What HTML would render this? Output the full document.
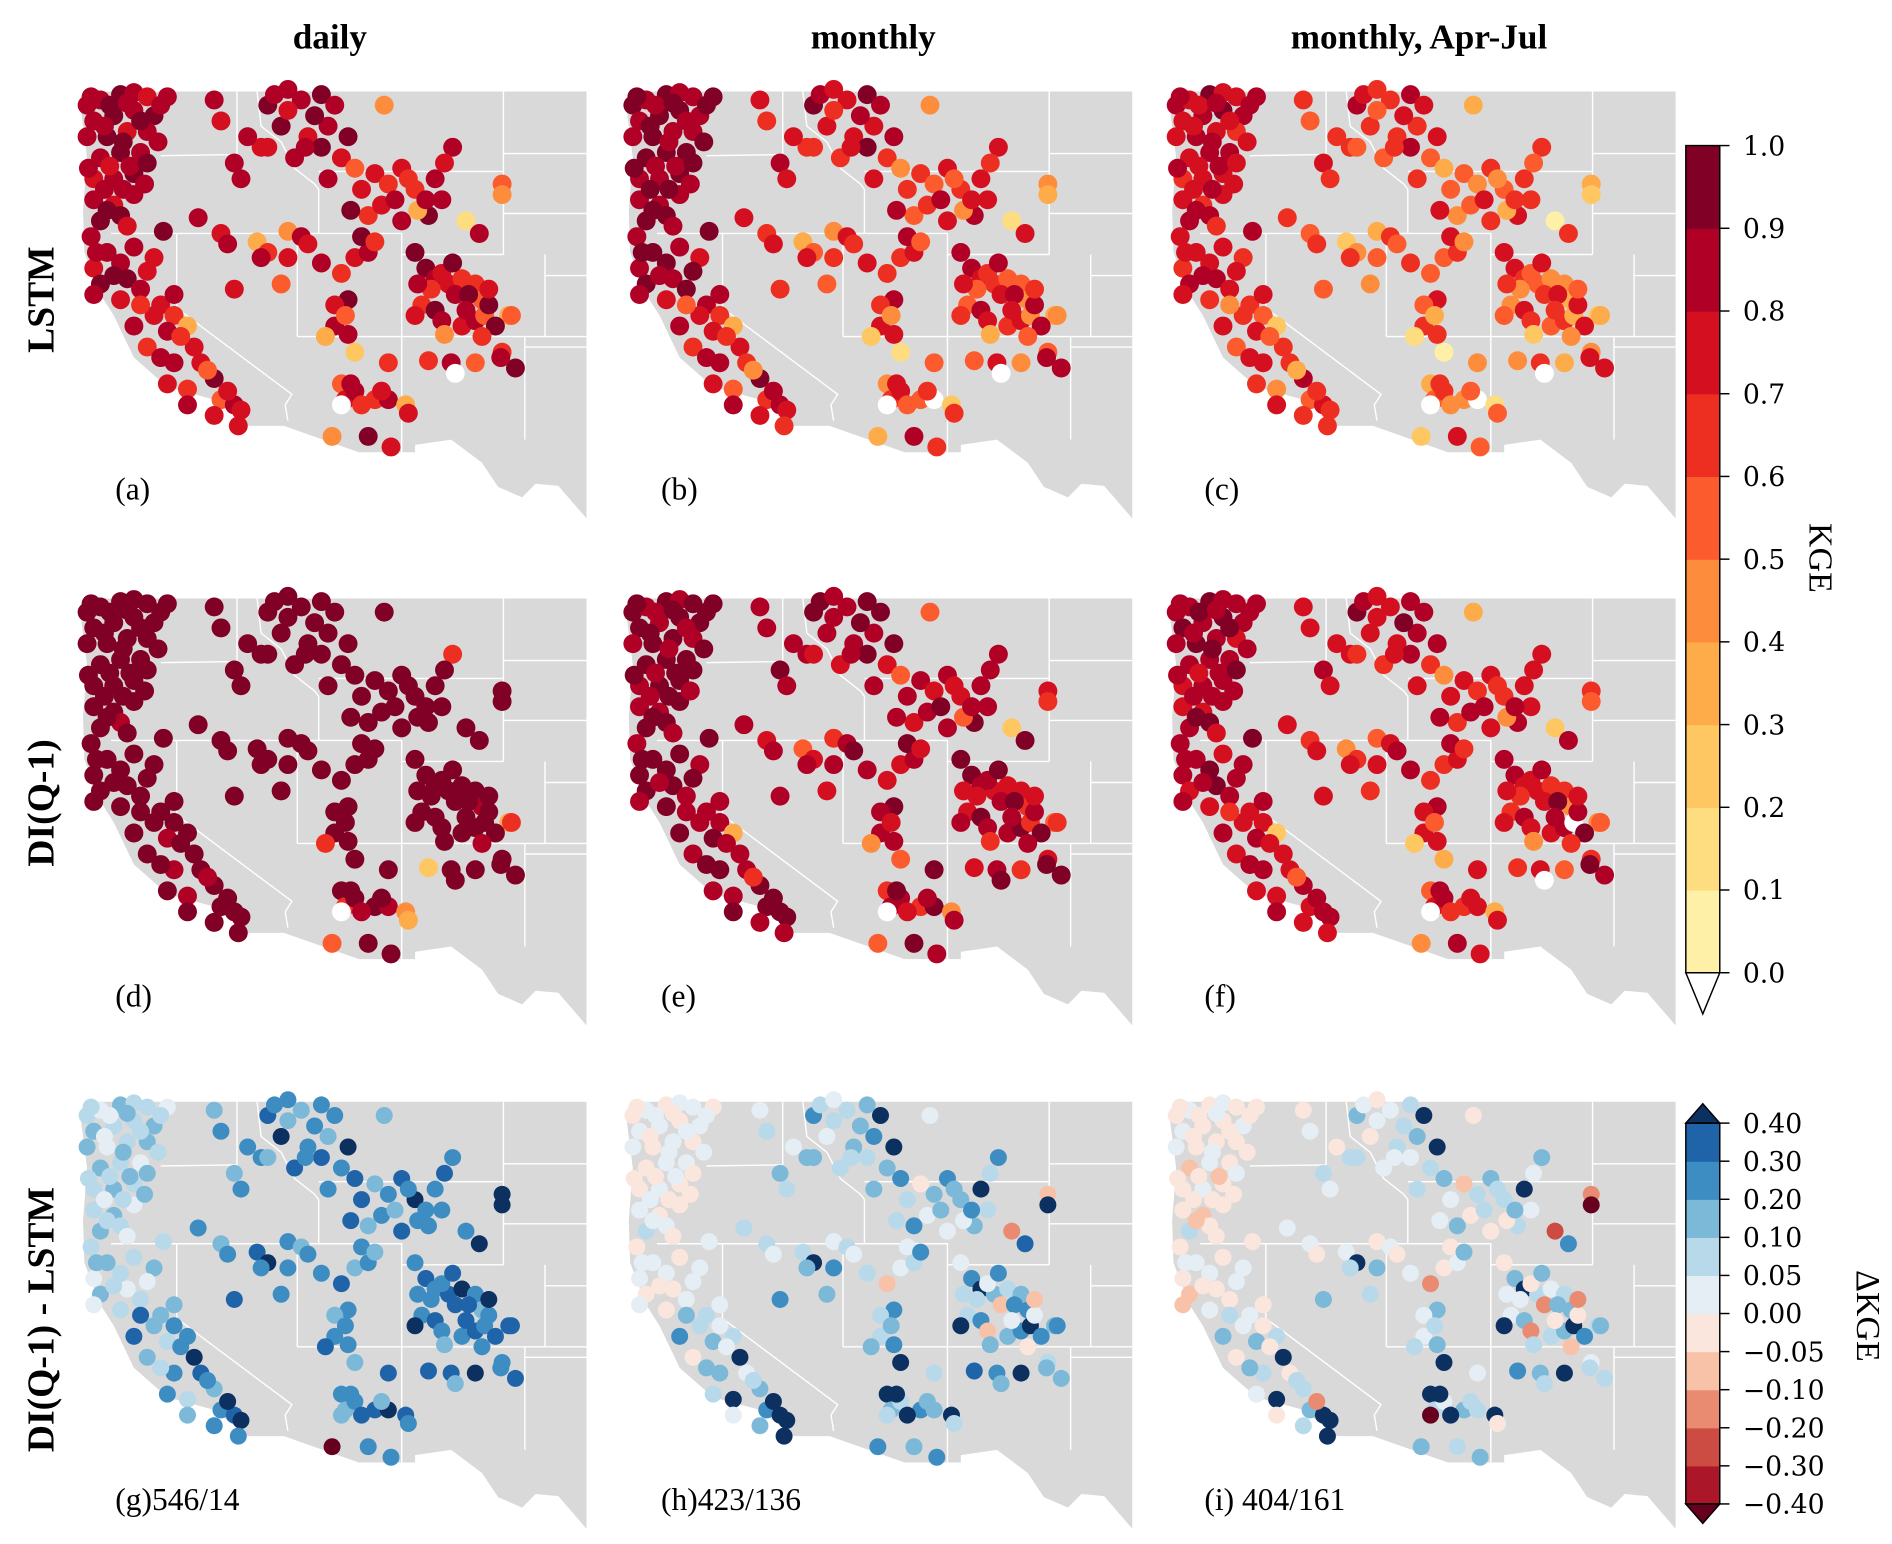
<!DOCTYPE html>
<html><head><meta charset="utf-8"><style>
html,body{margin:0;padding:0;background:#fff;}
svg{display:block;font-family:"Liberation Serif",serif;}
</style></head><body>
<svg id="fig" width="1892" height="1544" viewBox="0 0 1560 1273" xmlns="http://www.w3.org/2000/svg">
<g id="maps"></g>
<g id="labels">
<text x="272" y="40" font-size="29" font-weight="bold" text-anchor="middle">daily</text>
<text x="720" y="40" font-size="29" font-weight="bold" text-anchor="middle">monthly</text>
<text x="1170" y="40" font-size="29" font-weight="bold" text-anchor="middle">monthly, Apr-Jul</text>
<text transform="translate(44,247) rotate(-90)" font-size="31" font-weight="bold" text-anchor="middle">LSTM</text>
<text transform="translate(44,662) rotate(-90)" font-size="31" font-weight="bold" text-anchor="middle">DI(Q-1)</text>
<text transform="translate(44,1088) rotate(-90)" font-size="31" font-weight="bold" text-anchor="middle">DI(Q-1) - LSTM</text>
</g>
<g id="cbars"></g>
</svg>
<script>
// ---- data ----
var stationX = [65,75,90,100,110,125,70,85,100,115,65,80,95,110,75,90,105,70,85,100,70,85,100,75,90,68,80,70,75,90,95,105,115,100,
120,130,125,140,145,100,110,130,150,160,125,140,165,175,180,178,
160,165,175,180,195,200,205,215,225,240,250,210,200,230,220,245,240,255,245,265,280,290,300,310,325,330,320,300,275,285,287,338,332,312,
148,165,170,192,200,215,225,195,210,175,255,265,275,260,250,270,280,250,243,260,
310,318,325,335,345,340,355,360,315,325,330,310,345,355,362,365,380,385,375,337,340,355,320,
255,258,265,280,290,255,303,305,275,248,292,
375,375,348,358,382,374,265,
68,82,95,105,120,78,92,118,82,97,110,78,92,108,80,95,72,85,110,122,
115,135,120,155,170,105,140,160,
185,215,235,228,260,270,295,305,318,262,
330,350,322,348,365,370,332,360,312,338,
262,285,270,240,258,290,215,230,
66,70,90,130];
var stationY = [100,95,90,88,92,92,115,110,105,110,130,130,125,125,150,145,145,170,170,165,190,195,185,210,205,225,240,255,270,250,265,275,245,235,
290,300,315,310,330,310,330,345,345,360,365,370,380,385,390,405,
95,115,155,170,140,100,90,85,95,90,100,120,140,130,150,120,140,150,170,160,165,175,160,180,170,190,205,210,205,195,100,140,155,200,
207,222,232,230,240,220,225,245,270,275,260,245,240,285,290,225,230,310,320,318,
240,255,265,270,265,280,270,285,290,295,305,300,310,305,300,290,300,350,335,345,355,345,343,
365,380,372,380,380,385,385,393,415,415,425,
175,185,210,222,300,340,335,
92,100,98,115,100,120,135,135,158,158,155,180,180,175,200,215,240,262,258,220,
300,320,340,352,372,290,385,395,
130,105,110,140,130,180,190,170,190,200,
260,280,275,295,275,310,318,320,270,250,
365,372,385,250,300,345,245,232,
160,280,285,280];
var kgeA = "8898788989897889878987899887989878"+"7683786879765877"+"8788798889897788978576768898674873"+"87836488576789796838"+"99876865698778593968w56"+"57868w37947"+"5418582"+"89898898789888978979"+"76857687"+"8798978689"+"7968794689"+"87685677"+"8878";
var kgeB = "9898898998898899988988899898998978"+"8673786869756876"+"7687698779876767967465767787564764"+"76735477566678685727"+"88765754587667483857w45"+"4675ww26836"+"4317481"+"98989989889998989899"+"76848587"+"7687868578"+"6857683578"+"76574566"+"9878";
var kgeC = "8797787898787678867776788776878767"+"6572675768645766"+"6576687668765656856354656676453653"+"65624366455567574616"+"77654643476556372746w34"+"3564ww15725"+"3206370"+"87878787787787867878"+"65736476"+"6576757467"+"5746572467"+"65463455"+"8767";
var kgeD = "9999999999999999999999998999999999"+"9989999899989999"+"9999999999999999999999999999999699"+"99999999999999999969"+"99999998999999993999992"+"96998w43959"+"9999699"+"99999999999999999999"+"99989999"+"9999999999"+"9999999899"+"99899999"+"9999";
var kgeE = "9898999899899899989988999899999889"+"8893898989889998"+"8898899889987878978587878898785885"+"87857688787789897848"+"99877876798889685978967"+"68869w48958"+"7629695"+"98989989899898989899"+"88969898"+"8898989788"+"8978796879"+"98787989"+"9898";
var kgeF = "8898889898898788878877889888799887"+"7782787878777887"+"7787798778876768867476767787683774"+"76746577676678786727"+"88776764687778w84867w56"+"57867w37847"+"6528593"+"89898898789888978889"+"77858687"+"7797878688"+"7968794678"+"87685778"+"8878";
var dG = "6576657667756776567667576675765676"+"7868H978978689H8"+"78788988788H78979889789H8889787898"+"8789H878899788787898"+"8989H987898H898899897H9"+"8789H7988L8"+"HH8H987"+"65766576677567657656"+"7868H978"+"8788H97889"+"8989H97889"+"87988988"+"6567";
var dH = "4545545545545445545454465455454554"+"6576H847576H8HHH"+"5676786567H5776867784787H675855865"+"6656H567783568658678"+"58H76378683H78H577687H9"+"H76876H6788"+"3H2987H"+"45455455454544545455"+"6576H757"+"5676H67786"+"5865387468"+"H7H67685"+"4545";
var dI = "4545445445544435445443464454354454"+"5476H746465H7HHH"+"4565675456H4665756673676H564744754"+"5545H456672457547567"+"47H65267572H67H466576H8"+"H6576LH4677"+"2L1876H"+"44544454435444345454"+"54762646"+"4565H56675"+"4754286357"+"H6H56574"+"4354";
var kgeTicks = ["0.0","0.1","0.2","0.3","0.4","0.5","0.6","0.7","0.8","0.9","1.0"];
var dTicks = ["\u22120.40","\u22120.30","\u22120.20","\u22120.10","\u22120.05","0.00","0.05","0.10","0.20","0.30","0.40"];
var panelLabels = ["(a)","(b)","(c)","(d)","(e)","(f)","(g)546/14","(h)423/136","(i) 404/161"];

// ---- styles ----
var kgeColors = ["#fff0a8","#fedd80","#fec761","#feab49","#fd8d3c","#fc5b2e","#ed2f22","#d41020","#b00026","#800026"];
var dColors = ["#ab1628","#cc4c44","#e98b70","#f7c2a8","#fae6dc","#e4eef4","#b8d9ea","#7cb8d8","#3e8dc2","#1f63a8"];
var NS = "http://www.w3.org/2000/svg";
function mk(tag, attrs, parent){var e=document.createElementNS(NS,tag);for(var k in attrs)e.setAttribute(k,attrs[k]);parent.appendChild(e);return e;}
var sx = 1.104, sy = 0.867;
function X(v){return v*sx;} function Y(v){return v*sy;}
var mapPoly = "63,87 438,87 438,493 417,462 400,460 390,473 372,463 360,440 337,418 310,423 310,430 268,430 212,405 185,405 160,380 125,368 100,340 85,300 75,280 63,240 62,200 65,150 60,100";
var borders = ["120,148 177,147","177,87 177,147","192,87 195,120 210,135 220,160 235,175 238,180 238,222","238,163 376,163","83,222 300,222 300,242 376,242","222,222 222,320","300,242 300,430","222,320 392,320","376,87 376,242","376,146 438,146","376,203 438,203","407,242 407,320","407,262 438,262","392,320 392,418","392,320 438,320","392,330 438,330","132,222 132,293 218,375 213,385 215,400"];
function colorFor(ch,row){
  if(row<2){ if(ch==="w") return "#ffffff"; return kgeColors[parseInt(ch,10)]; }
  if(ch==="H") return "#0c3060"; if(ch==="L") return "#67001f"; return dColors[parseInt(ch,10)];
}
var maps = document.getElementById("maps");
var series = [kgeA,kgeB,kgeC,kgeD,kgeE,kgeF,dG,dH,dI];
var colDx = [0,450,898], rowDy = [0,418,833];
for(var p=0;p<9;p++){
  var r=Math.floor(p/3), c=p%3, dx=colDx[c], dy=rowDy[r];
  var g=mk("g",{},maps);
  
  
  var bg=mk("g",{transform:"translate("+dx+","+dy+") scale("+sx+","+sy+")"},g);
  var poly=mk("polygon",{points:mapPoly,fill:"#d9d9d9"},bg);
  
  
  borders.forEach(function(b){
    var l=mk("polyline",{points:b,fill:"none",stroke:"#fff","stroke-width":1.4,"vector-effect":"non-scaling-stroke"},bg);
    
    
  });
  var vals=series[p], rad=(r<2)?7.8:7;
  for(var i=0;i<stationX.length && i<vals.length;i++){
    var ci=mk("circle",{cx:(X(stationX[i])+dx).toFixed(1),cy:(Y(stationY[i])+dy).toFixed(1),r:rad,fill:colorFor(vals[i],r)},g);
    
    
  }
  var t=mk("text",{x:95+dx,y:412+dy,"font-size":26},g);
  t.textContent=panelLabels[p];
  
  
}
// colorbars
var cb=document.getElementById("cbars");
var k0=802,k1=120,bx=1390,bw=28,lx=1437;
var kstep=(k0-k1)/10;
for(var i=0;i<10;i++){
  var rr=mk("rect",{x:bx,y:k0-(i+1)*kstep,width:bw,height:kstep+0.5,fill:kgeColors[i]},cb);
  
  
}
var tri=mk("polygon",{points:bx+","+k0+" "+(bx+bw)+","+k0+" "+(bx+bw/2)+",836",fill:"#fff",stroke:"#000","stroke-width":1.2},cb);


mk("rect",{x:bx,y:k1,width:bw,height:k0-k1,fill:"none",stroke:"#000","stroke-width":1.2},cb);
kgeTicks.forEach(function(s,i){
  var y=k0-i*kstep;
  mk("line",{x1:bx+bw,x2:bx+bw+8,y1:y,y2:y,stroke:"#000","stroke-width":1.2},cb);
  var t=mk("text",{x:lx,y:y+8,"font-size":22,"font-family":"DejaVu Serif, serif"},cb);t.textContent=s;
  
  
});
var kl=mk("text",{transform:"translate(1492,460) rotate(90)","font-size":28,"text-anchor":"middle"},cb);kl.textContent="KGE";


var d0=1240,d1=926,dstep=(d0-d1)/10;
for(var i=0;i<10;i++){
  var rr=mk("rect",{x:bx,y:d0-(i+1)*dstep,width:bw,height:dstep+0.5,fill:dColors[i]},cb);
  
  
}
var tt=mk("polygon",{points:bx+","+d1+" "+(bx+bw)+","+d1+" "+(bx+bw/2)+",910",fill:"#0c3060",stroke:"#000","stroke-width":1.2},cb);


var tb=mk("polygon",{points:bx+","+d0+" "+(bx+bw)+","+d0+" "+(bx+bw/2)+",1256",fill:"#67001f",stroke:"#000","stroke-width":1.2},cb);


mk("rect",{x:bx,y:d1,width:bw,height:d0-d1,fill:"none",stroke:"#000","stroke-width":1.2},cb);
dTicks.forEach(function(s,i){
  var y=d0-i*dstep;
  mk("line",{x1:bx+bw,x2:bx+bw+8,y1:y,y2:y,stroke:"#000","stroke-width":1.2},cb);
  var t=mk("text",{x:lx,y:y+8,"font-size":22,"font-family":"DejaVu Serif, serif"},cb);t.textContent=s;
  
  
});
var dl=mk("text",{transform:"translate(1531,1085) rotate(90)","font-size":28,"text-anchor":"middle"},cb);dl.textContent="\u0394KGE";


</script>
</body></html>
